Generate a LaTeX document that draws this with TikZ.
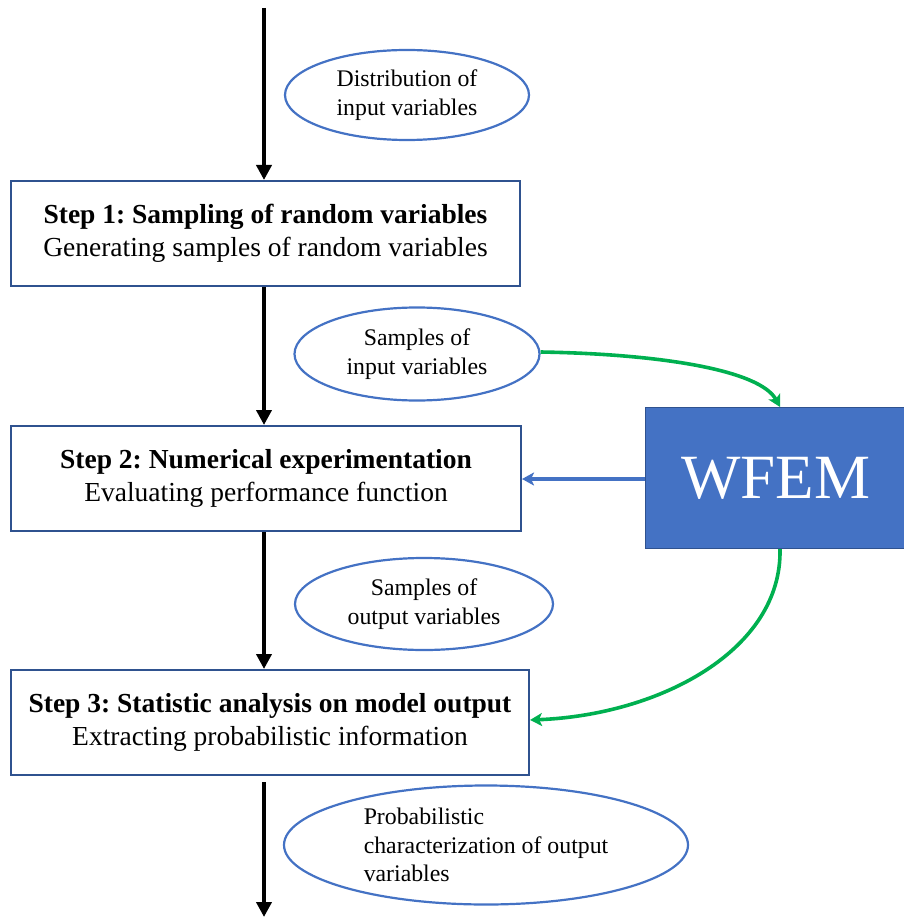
\documentclass[tikz,border=0pt]{standalone}
\usepackage{fontspec}
\setmainfont{Liberation Serif}
\usetikzlibrary{shapes.geometric,arrows.meta}
\definecolor{boxline}{HTML}{2F528F}
\definecolor{ovalline}{HTML}{4472C4}
\definecolor{wfemfill}{HTML}{4472C4}
\definecolor{flowgreen}{HTML}{00B050}
\frenchspacing
\begin{document}
\begin{tikzpicture}[x=1pt,y=-1pt,
  stepbox/.style={draw=boxline,line width=2pt,fill=white,rectangle,anchor=north west,inner sep=0pt,align=center,
    font=\fontsize{27.5}{33}\selectfont},
  oval/.style={draw=ovalline,line width=2.2pt,ellipse,inner sep=0pt,align=center,
    font=\fontsize{23.8}{28.5}\selectfont},
  mainflow/.style={line width=4pt,-{Triangle[width=15pt,length=15pt]}},
  greenflow/.style={draw=flowgreen,line width=3.6pt,-{Stealth[width=13pt,length=12pt,inset=3pt]}},
  blueflow/.style={draw=ovalline,line width=3.4pt,-{Stealth[width=13pt,length=12pt,inset=3pt]}}]
\useasboundingbox (0,0) rectangle (903,917);

% processing steps
\node[stepbox,minimum width=509pt,minimum height=105pt] (s1) at (10,180)
  {\textbf{Step 1: Sampling of random variables}\\Generating samples of random variables};
\node[stepbox,minimum width=510pt,minimum height=105pt] (s2) at (10,425)
  {\textbf{Step 2: Numerical experimentation}\\Evaluating performance function};
\node[stepbox,minimum width=518pt,minimum height=105pt] (s3) at (10,669)
  {\textbf{Step 3: Statistic analysis on model output}\\Extracting probabilistic information};

% solver block
\node[rectangle,fill=wfemfill,draw=boxline,line width=1.2pt,anchor=north west,minimum width=260pt,minimum height=141pt,
  text=white,font=\fontsize{63}{63}\selectfont,inner sep=0pt] (wfem) at (645,407) {WFEM};

% data exchanged between the steps
\node[oval,minimum width=244pt,minimum height=90pt] (o1) at (407,95) {Distribution of\\input variables};
\node[oval,minimum width=245pt,minimum height=93pt] (o2) at (417,354) {Samples of\\input variables};
\node[oval,minimum width=258pt,minimum height=92pt] (o3) at (424,604) {Samples of\\output variables};
\node[oval,minimum width=404pt,minimum height=119pt,align=left] (o4) at (486,845)
  {Probabilistic\\characterization of output\\variables};

% main vertical flow
\coordinate (top) at (264,8);
\coordinate (bottom) at (264,917);
\draw[mainflow] (top) -- (s1.north -| top);
\draw[mainflow] (s1.south -| top) -- (s2.north -| top);
\draw[mainflow] (s2.south -| top) -- (s3.north -| top);
\draw[mainflow] ([yshift=-6pt]s3.south -| top) -- (bottom);

% links with the solver
\draw[greenflow] (o2.east) ++(0,-2) .. controls (660,354) and (760,370) .. (wfem.north -| 780,0);
\draw[blueflow] (wfem.west |- 0,479) -- (s2.east |- 0,479);
\draw[greenflow] (wfem.south -| 780,0) .. controls (782,650) and (660,715) .. (s3.east |- 0,720);
\end{tikzpicture}
\end{document}
